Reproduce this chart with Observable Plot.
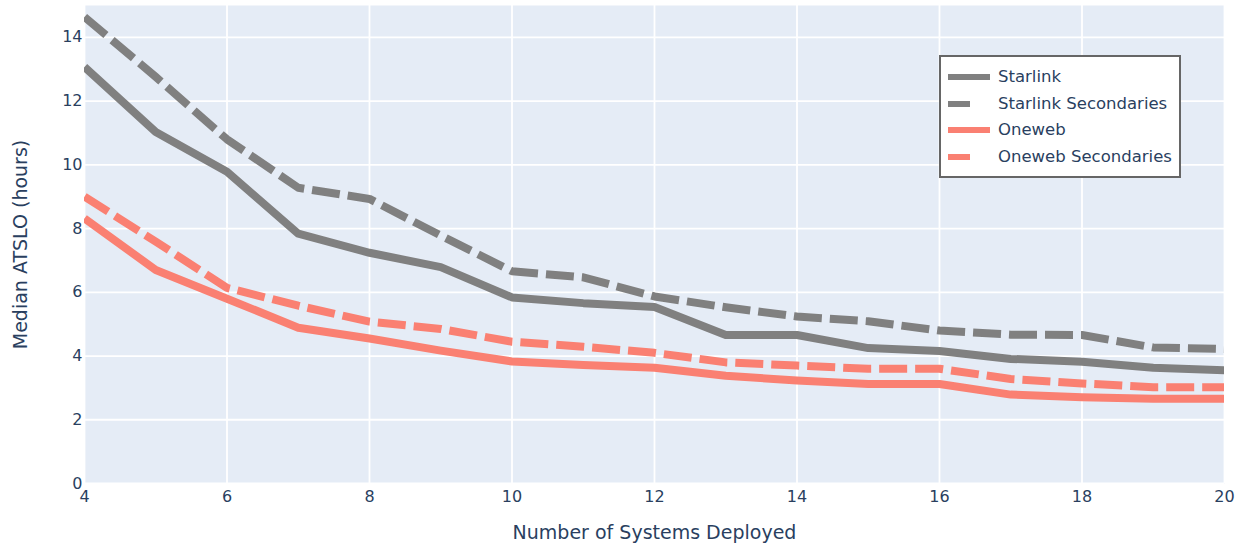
<!DOCTYPE html>
<html>
<head>
<meta charset="utf-8">
<script src="https://cdn.jsdelivr.net/npm/d3@7"></script>
<script src="https://cdn.jsdelivr.net/npm/@observablehq/plot@0.6"></script>
<style>
  html, body { margin: 0; padding: 0; background: #fff; }
  #wrap { position: relative; width: 1242px; height: 546px; font-family: "DejaVu Sans", Verdana, sans-serif; }
  #legend { position: absolute; left: 939px; top: 55px; width: 242px; height: 123px; box-sizing: border-box;
            background: #fff; border: 2.5px solid #666; }
  .row { position: absolute; left: 0; height: 20px; }
  .row svg { position: absolute; left: 7px; top: 0; }
  .row span { position: absolute; left: 57px; top: 0px; font-size: 16.5px; color: #2a3f5f; white-space: nowrap; }
</style>
</head>
<body>
<div id="wrap"></div>
<script>
// Data
const systems = [4, 5, 6, 7, 8, 9, 10, 11, 12, 13, 14, 15, 16, 17, 18, 19, 20];
const starlink = [13.07, 11.03, 9.78, 7.84, 7.24, 6.79, 5.84, 5.66, 5.54, 4.66, 4.66, 4.25, 4.16, 3.91, 3.82, 3.63, 3.55];
const starlinkSecondaries = [14.64, 12.76, 10.8, 9.28, 8.93, 7.78, 6.66, 6.47, 5.87, 5.53, 5.24, 5.09, 4.8, 4.67, 4.66, 4.27, 4.22];
const oneweb = [8.32, 6.7, 5.8, 4.89, 4.55, 4.17, 3.83, 3.72, 3.63, 3.38, 3.23, 3.12, 3.12, 2.79, 2.71, 2.66, 2.66];
const onewebSecondaries = [9.0, 7.59, 6.14, 5.58, 5.08, 4.85, 4.45, 4.29, 4.1, 3.8, 3.7, 3.6, 3.6, 3.28, 3.14, 3.02, 3.02];
const seriesNames = ["Starlink", "Starlink Secondaries", "Oneweb", "Oneweb Secondaries"];
const xTicks = [4, 6, 8, 10, 12, 14, 16, 18, 20];
const yTicks = [0, 2, 4, 6, 8, 10, 12, 14];
const xTitle = "Number of Systems Deployed";
const yTitle = "Median ATSLO (hours)";

const seriesValues = [starlink, starlinkSecondaries, oneweb, onewebSecondaries];
const styles = [
  {color: "#808080", dash: null},
  {color: "#808080", dash: "28,8"},
  {color: "#FA8072", dash: null},
  {color: "#FA8072", dash: "28,8"}
];

const rows = [];
seriesNames.forEach((name, i) => {
  systems.forEach((s, j) => rows.push({series: name, x: s, y: seriesValues[i][j]}));
});

const textColor = "#2a3f5f";
const marks = [
  Plot.frame({fill: "#E5ECF6", stroke: null}),
  Plot.gridX(xTicks, {stroke: "#fff", strokeOpacity: 1, strokeWidth: 1.8}),
  Plot.gridY(yTicks, {stroke: "#fff", strokeOpacity: 1, strokeWidth: 1.8}),
  Plot.axisX(xTicks, {tickSize: 0, tickPadding: 7, label: null, color: textColor, fontSize: 16}),
  Plot.axisY(yTicks, {tickSize: 0, tickPadding: 2, label: null, color: textColor, fontSize: 16}),
];
seriesNames.forEach((name, i) => {
  marks.push(Plot.line(rows.filter(d => d.series === name), {
    x: "x", y: "y", stroke: styles[i].color, strokeWidth: 8,
    strokeDasharray: styles[i].dash, strokeLinecap: "butt", strokeLinejoin: "round", clip: true
  }));
});
marks.push(Plot.text([xTitle], {text: d => d, frameAnchor: "bottom", dy: 55, fontSize: 19, fill: textColor}));
marks.push(Plot.text([yTitle], {text: d => d, frameAnchor: "left", textAnchor: "middle", dx: -64, rotate: -90, fontSize: 19, fill: textColor}));

const chart = Plot.plot({
  width: 1242, height: 546,
  marginLeft: 84, marginRight: 18, marginTop: 5, marginBottom: 63,
  style: {fontFamily: "DejaVu Sans, Verdana, sans-serif", fontSize: "16px", background: "#fff", color: textColor},
  x: {domain: [4, 20]},
  y: {domain: [0, 15]},
  marks
});
const wrap = document.getElementById("wrap");
wrap.appendChild(chart);

// Legend
const legend = document.createElement("div");
legend.id = "legend";
const rowTops = [10, 37, 63, 90];
seriesNames.forEach((name, i) => {
  const r = document.createElement("div");
  r.className = "row";
  r.style.top = rowTops[i] + "px";
  const len = styles[i].dash ? 22 : 42;
  r.innerHTML = `<svg width="45" height="20"><line x1="0" x2="${len}" y1="10" y2="10" stroke="${styles[i].color}" stroke-width="6"/></svg><span>${name}</span>`;
  legend.appendChild(r);
});
wrap.appendChild(legend);
</script>
</body>
</html>
